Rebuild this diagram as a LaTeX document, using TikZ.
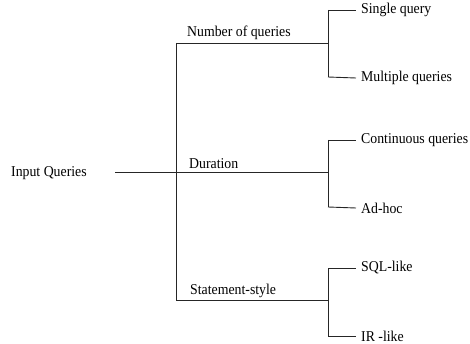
\documentclass[tikz,border=0pt]{standalone}
\usepackage{fontspec}
\setmainfont[FakeStretch=0.92]{Liberation Serif}
\begin{document}
\begin{tikzpicture}[x=1pt,y=-1pt,
  conn/.style={draw=black!85, line width=0.9pt},
  txt/.style={font=\fontsize{15}{17}\selectfont, inner sep=0pt},
  leaf/.style={txt, anchor=west, inner xsep=5pt},
  cat/.style={txt, anchor=base west}]
\useasboundingbox (0,0) rectangle (470,344);
% root
\node[txt, anchor=west] (in) at (11,173) {Input Queries};
\coordinate (root) at (115,172);
\coordinate (tkA) at (176,43);
\coordinate (tkB) at (176,172);
\coordinate (tkC) at (176,300);
% category junctions
\coordinate (jA) at (328,43);
\coordinate (jB) at (328,172);
\coordinate (jC) at (328,300);
\coordinate (jAt) at (328,10);
\coordinate (jAb) at (328,77);
\coordinate (jBt) at (328,140);
\coordinate (jBb) at (328,207);
\coordinate (jCt) at (328,268);
\coordinate (jCb) at (328,336);
% category labels
\node[cat] (cA) at (187,37) {Number of queries};
\node[cat] (cB) at (189,169) {Duration};
\node[cat] (cC) at (190,294) {Statement-style};
% leaves
\node[leaf] (l1) at (356,10) {Single query};
\node[leaf] (l2) at (356,78) {Multiple queries};
\node[leaf] (l3) at (356,140) {Continuous queries};
\node[leaf] (l4) at (356,208) {Ad-hoc};
\node[leaf] (l5) at (356,268) {SQL-like};
\node[leaf] (l6) at (356,336) {IR -like};
% connectors
\draw[conn] (root) -- (tkB);
\draw[conn] (tkA) -- (tkC);
\draw[conn] (tkA) -- (jA);
\draw[conn] (tkB) -- (jB);
\draw[conn] (tkC) -- (jC);
\draw[conn] (jAt) -- (jAb);
\draw[conn] (jBt) -- (jBb);
\draw[conn] (jCt) -- (jCb);
\draw[conn] (jAt) -- (l1.west);
\draw[conn] (jAb) -- (l2.west);
\draw[conn] (jBt) -- (l3.west);
\draw[conn] (jBb) -- (l4.west);
\draw[conn] (jCt) -- (l5.west);
\draw[conn] (jCb) -- (l6.west);
\end{tikzpicture}
\end{document}
